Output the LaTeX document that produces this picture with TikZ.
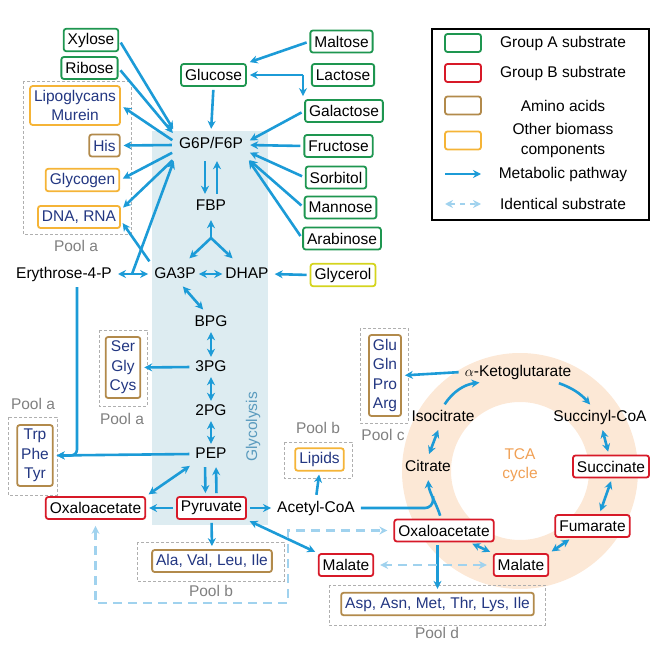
\documentclass[tikz,border=0pt]{standalone}
\usepackage{fontspec}
\setmainfont{Liberation Sans}
\usetikzlibrary{arrows.meta}
\definecolor{fluxblue}{RGB}{28,155,215}
\definecolor{identblue}{RGB}{160,210,238}
\definecolor{grpgreen}{RGB}{30,150,80}
\definecolor{grpred}{RGB}{215,25,40}
\definecolor{aminobrown}{RGB}{178,138,75}
\definecolor{biomassorange}{RGB}{245,180,55}
\definecolor{glyceryellow}{RGB}{212,212,30}
\definecolor{poolgray}{RGB}{175,175,175}
\definecolor{poolgraytext}{RGB}{128,128,128}
\definecolor{bluetext}{RGB}{35,55,130}
\definecolor{glycbg}{RGB}{221,236,241}
\definecolor{glyctext}{RGB}{90,155,190}
\definecolor{tcaring}{RGB}{252,232,214}
\definecolor{tcatext}{RGB}{240,160,85}
\tikzset{
  box/.style={draw, fill=white, line width=1.8pt, rounded corners=2.5pt, inner sep=4pt, minimum height=22pt},
  grpA/.style={box, draw=grpgreen},
  grpB/.style={box, draw=grpred},
  grpC/.style={box, draw=glyceryellow},
  amino/.style={box, draw=aminobrown, text=bluetext, align=center},
  biomass/.style={box, draw=biomassorange, text=bluetext, align=center},
  met/.style={inner sep=3pt, text height=11pt, text depth=3pt},
  flux/.style={draw=fluxblue, line width=2.6pt, shorten >=3pt, shorten <=3pt, ->},
  fluxx/.style={flux, <->},
  fluxshort/.style={fluxx, shorten >=0pt, shorten <=0pt},
  ident/.style={draw=identblue, line width=2.6pt, dash pattern=on 9pt off 6pt, shorten >=6pt, shorten <=6pt, <->},
  pool/.style={draw=poolgray, line width=0.9pt, dash pattern=on 3pt off 2pt},
  poolname/.style={text=poolgraytext},
}
\begin{document}
\begin{tikzpicture}[x=1pt, y=1pt, >={Stealth[length=8pt,width=8pt]}, font=\fontsize{15.5}{19.5}\selectfont]
\useasboundingbox (0,0) rectangle (661,-647);
\fill[glycbg] (152,-131) rectangle (268,-525);
\fill[tcaring, even odd rule] (520,-471) circle (118) (520,-471) circle (69);
\node[text=glyctext, rotate=90] (glyclabel) at (253,-427) {Glycolysis};
\node[text=tcatext, align=center] (tcalabel) at (520,-465) {TCA\\cycle};

\draw[pool] (23,-81) rectangle (131,-234);
\node[poolname] (poolA1) at (76,-246) {Pool a};
\draw[pool] (99,-330) rectangle (147,-406);
\node[poolname] (poolA2) at (122,-419) {Pool a};
\draw[pool] (8,-417) rectangle (57,-495);
\node[poolname] (poolA3) at (33,-404) {Pool a};
\draw[pool] (137,-542) rectangle (284,-581);
\node[poolname] (poolB1) at (211,-591) {Pool b};
\draw[pool] (284,-442) rectangle (352,-478);
\node[poolname] (poolB2) at (318,-428) {Pool b};
\draw[pool] (360,-328) rectangle (408,-423);
\node[poolname] (poolC) at (383,-435) {Pool c};
\draw[pool] (329,-585) rectangle (545,-625);
\node[poolname] (poolD) at (437,-633) {Pool d};

\node[grpA] (xylose) at (91,-40) {Xylose};
\node[grpA] (ribose) at (89.5,-68) {Ribose};
\node[grpA] (glucose) at (213.5,-75) {Glucose};
\node[grpA] (maltose) at (341.5,-41.5) {Maltose};
\node[grpA] (lactose) at (343,-75) {Lactose};
\node[grpA] (galactose) at (344,-111) {Galactose};
\node[grpA] (fructose) at (338.5,-146) {Fructose};
\node[grpA] (sorbitol) at (336,-177.5) {Sorbitol};
\node[grpA] (mannose) at (340.5,-207.5) {Mannose};
\node[grpA] (arabinose) at (342,-238.5) {Arabinose};
\node[grpC] (glycerol) at (343,-275) {Glycerol};
\node[biomass] (lipoglycans) at (75,-105.5) {Lipoglycans\\Murein};
\node[amino] (his) at (104.5,-145.5) {His};
\node[biomass] (glycogen) at (82.5,-180) {Glycogen};
\node[biomass] (dnarna) at (79,-217) {DNA, RNA};

\node[met, minimum width=72pt, minimum height=26pt] (g6p) at (211,-145) {G6P/F6P};
\node[met] (fbp) at (211,-207) {FBP};
\coordinate (fork) at (211,-238);
\node[met] (ga3p) at (175,-274) {GA3P};
\node[met] (dhap) at (247,-274) {DHAP};
\node[met] (e4p) at (64,-274) {Erythrose-4-P};
\node[met] (bpg) at (211,-322) {BPG};
\node[met] (pg3) at (211,-367) {3PG};
\node[met] (pg2) at (211,-411) {2PG};
\node[met] (pep) at (211,-454) {PEP};
\node[grpB] (oaaleft) at (95.5,-508) {Oxaloacetate};
\node[grpB] (pyruvate) at (211.5,-508) {Pyruvate};
\node[met] (acoa) at (316,-508) {Acetyl-CoA};
\node[amino] (sergly) at (123,-367.5) {Ser\\Gly\\Cys};
\node[amino] (trpphe) at (35,-455.5) {Trp\\Phe\\Tyr};
\node[amino] (alaval) at (212,-561) {Ala, Val, Leu, Ile};
\node[biomass] (lipids) at (319.5,-459.5) {Lipids};
\node[grpB] (malleft) at (346,-565) {Malate};

\node[met] (akg) at (518,-372) {$\alpha$-Ketoglutarate};
\node[met] (isocit) at (443,-417) {Isocitrate};
\node[met] (sucoa) at (600,-417) {Succinyl-CoA};
\node[met] (citrate) at (428,-467) {Citrate};
\node[grpB] (succinate) at (611,-466.5) {Succinate};
\node[grpB] (fumarate) at (592.5,-526) {Fumarate};
\node[grpB] (malate) at (521,-565) {Malate};
\node[grpB] (oaa) at (444,-530.5) {Oxaloacetate};
\node[amino] (glugln) at (385,-375.5) {Glu\\Gln\\Pro\\Arg};
\node[amino] (aspasn) at (437.5,-604) {Asp, Asn, Met, Thr, Lys, Ile};

\draw[flux] (xylose.east) -- (g6p.north west);
\draw[flux] (ribose.east) -- (g6p.165);
\draw[flux] (g6p.175) -- (lipoglycans.east);
\draw[flux] (g6p.west) -- (his.east);
\draw[flux] (g6p.190) -- (glycogen.east);
\draw[flux] (g6p.200) -- (dnarna.10);
\draw[flux] (ga3p.north west) -- (dnarna.-5);
\draw[flux] (glucose.south) -- (g6p.north);
\draw[flux] (maltose.west) -- (glucose.north east);
\draw[flux, shorten <=8pt] (lactose.west) -- (glucose.east);
\coordinate (lacsplit) at ([xshift=-8pt]lactose.west);
\draw[flux, shorten <=0pt] (lacsplit) -- (lacsplit |- galactose.north);
\draw[flux] (galactose.west) -- (g6p.5);
\draw[flux] (fructose.west) -- (g6p.east);
\draw[flux] (sorbitol.west) -- (g6p.350);
\draw[flux] (mannose.west) -- (g6p.340);
\draw[flux] (arabinose.west) -- (g6p.south east);
\draw[flux] (glycerol.west) -- (dhap.east);
\draw[flux] ([xshift=-6pt]g6p.south) -- ([xshift=-6pt]fbp.north);
\draw[flux] ([xshift=6pt]fbp.north) -- ([xshift=6pt]g6p.south);
\draw[flux, shorten <=0pt] (fork) -- (fbp.south);
\draw[flux, shorten <=0pt, shorten >=8pt] (fork) -- (ga3p.50);
\draw[flux, shorten <=0pt, shorten >=8pt] (fork) -- (dhap.130);
\draw[fluxshort] (ga3p.east) -- (dhap.west);
\draw[fluxx] (e4p.east) -- (ga3p.west);
\coordinate (e4pup) at ([xshift=17pt]e4p.east);
\draw[flux, shorten <=0pt] (e4pup) -- (g6p.south west);
\draw[fluxx] (ga3p.-60) -- (bpg.120);
\draw[fluxshort] (bpg.south) -- (pg3.north);
\draw[fluxshort] (pg3.south) -- (pg2.north);
\draw[fluxshort] (pg2.south) -- (pep.north);
\draw[flux] (pg3.west) -- (sergly.east);
\draw[flux] (pep.west) -- (trpphe.east);
\draw[flux, rounded corners=6pt] ([xshift=13pt]e4p.south) |- (trpphe.east);
\draw[fluxx] (pep.south west) -- (oaaleft.north east);
\draw[flux] ([xshift=-6pt]pep.south) -- ([xshift=-6pt]pyruvate.north);
\draw[flux] ([xshift=5pt]pyruvate.north) -- ([xshift=5pt]pep.south);
\draw[flux] (pyruvate.west) -- (oaaleft.east);
\draw[flux] (pyruvate.east) -- (acoa.west);
\draw[flux] (pyruvate.south) -- (alaval.north);
\draw[fluxx] (pyruvate.south east) -- (malleft.north west);
\draw[flux] (acoa.north) -- (lipids.south);

\coordinate (acjoin) at (433,-496);
\draw[flux, -, rounded corners=8pt, shorten >=0pt] (acoa.east) -| (acjoin);
\draw[flux] ([xshift=-3pt]oaa.north) .. controls (437,-505) and (429,-492) .. (citrate.south);
\draw[fluxx] (citrate.north) -- (isocit.250);
\draw[flux] (isocit.north) to[bend left=25] (akg.196);
\draw[flux] (akg.345) to[bend left=15] (sucoa.128);
\draw[fluxx] (sucoa.-80) -- (succinate.100);
\draw[fluxx] (succinate.-85) -- (fumarate.60);
\draw[fluxx] (fumarate.210) -- (malate.north east);
\draw[fluxx] (malate.north west) -- (oaa.-25);
\draw[flux] (oaa.south -| aspasn.north) -- (aspasn.north);
\draw[flux] (akg.west) -- (glugln.east);

\coordinate (identcorner) at (288,-603);
\draw[ident] (oaaleft.south) |- (identcorner) |- (oaa.west);
\draw[ident] (malate.west) -- (malleft.east);

\draw[line width=1.5pt] (432,-29) rectangle (649,-220);
\node[grpA, minimum width=36pt, minimum height=18pt] (keyA) at (463,-43) {};
\node (keyAtext) at (563,-43) {Group A substrate};
\node[grpB, minimum width=36pt, minimum height=18pt] (keyB) at (463,-73) {};
\node (keyBtext) at (563,-73) {Group B substrate};
\node[amino, minimum width=36pt, minimum height=18pt] (keyAmino) at (463,-105.5) {};
\node (keyAminotext) at (563,-105.5) {Amino acids};
\node[biomass, minimum width=36pt, minimum height=18pt] (keyBio) at (463,-140.5) {};
\node[align=center] (keyBiotext) at (563,-140.5) {Other biomass\\components};
\coordinate (keyF1) at (445,-174);
\coordinate (keyF2) at (481,-174);
\draw[flux, shorten >=0pt, shorten <=0pt] (keyF1) -- (keyF2);
\node (keyFtext) at (563,-174) {Metabolic pathway};
\coordinate (keyI1) at (445,-204);
\coordinate (keyI2) at (481,-204);
\draw[ident, shorten >=0pt, shorten <=0pt, dash pattern=on 5pt off 5pt] (keyI1) -- (keyI2);
\node (keyItext) at (563,-204) {Identical substrate};
\end{tikzpicture}
\end{document}
